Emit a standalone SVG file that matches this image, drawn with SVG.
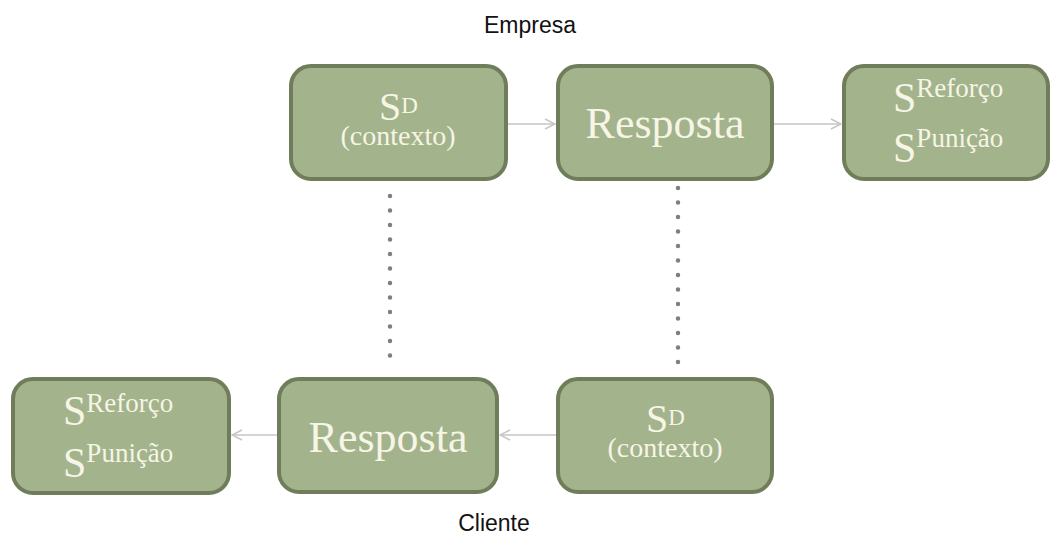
<svg xmlns="http://www.w3.org/2000/svg" width="1051" height="535" viewBox="0 0 1051 535">
<style>
.box{fill:#a3b38c;stroke:#6f7d5a;stroke-width:4}
.t{font-family:"Liberation Serif","Times New Roman",serif;fill:#f6f5e6}
.lbl{font-family:"Liberation Sans",Arial,sans-serif;font-size:23px;fill:#111}
.con{stroke:#c6c6c6;stroke-width:1.5;fill:none}
.dot{stroke:#7f7f7f;stroke-width:4.5;stroke-linecap:round;stroke-dasharray:0 14.5;fill:none}
</style>
<defs>
<marker id="arr" markerWidth="12" markerHeight="12" refX="11" refY="6" orient="auto" markerUnits="userSpaceOnUse">
<path d="M1,1 L11,6 L1,11" fill="none" stroke="#c6c6c6" stroke-width="1.5"/>
</marker>
</defs>
<rect width="1051" height="535" fill="#ffffff"/>
<text class="lbl" x="530" y="33" text-anchor="middle">Empresa</text>
<text class="lbl" x="494" y="531" text-anchor="middle">Cliente</text>
<g id="connectors">
<line class="con" x1="507" y1="124" x2="555" y2="124" marker-end="url(#arr)"/>
<line class="con" x1="773" y1="124" x2="841" y2="124" marker-end="url(#arr)"/>
<line class="con" x1="557" y1="435" x2="500" y2="435" marker-end="url(#arr)"/>
<line class="con" x1="278" y1="435" x2="232" y2="435" marker-end="url(#arr)"/>
<line class="dot" x1="390" y1="196" x2="390" y2="370"/>
<line class="dot" x1="678" y1="188" x2="678" y2="363"/>
</g>
<g id="sd-top">
<rect class="box" x="291" y="66" width="215" height="113" rx="20"/>
<text class="t"><tspan x="379" y="120" font-size="40">S</tspan><tspan font-size="23" dy="-7">D</tspan><tspan x="398" y="145" text-anchor="middle" font-size="28">(contexto)</tspan></text>
</g>
<g id="resposta-top">
<rect class="box" x="558" y="66" width="214" height="113" rx="20"/>
<text class="t" x="665" y="138" text-anchor="middle" font-size="44">Resposta</text>
</g>
<g id="sref-top">
<rect class="box" x="844" y="66" width="204" height="113" rx="20"/>
<text class="t"><tspan x="893" y="112" font-size="42">S</tspan><tspan font-size="27" dy="-15">Reforço</tspan><tspan x="893" y="162" font-size="42">S</tspan><tspan font-size="27" dy="-15">Punição</tspan></text>
</g>
<g id="sref-bottom">
<rect class="box" x="13" y="379" width="216" height="114" rx="20"/>
<text class="t"><tspan x="63" y="425" font-size="42">S</tspan><tspan font-size="27" dy="-13">Reforço</tspan><tspan x="63" y="477" font-size="42">S</tspan><tspan font-size="27" dy="-15">Punição</tspan></text>
</g>
<g id="resposta-bottom">
<rect class="box" x="279" y="379" width="218" height="113" rx="20"/>
<text class="t" x="388" y="452" text-anchor="middle" font-size="44">Resposta</text>
</g>
<g id="sd-bottom">
<rect class="box" x="558" y="379" width="214" height="113" rx="20"/>
<text class="t"><tspan x="646" y="432" font-size="40">S</tspan><tspan font-size="23" dy="-7">D</tspan><tspan x="665" y="457" text-anchor="middle" font-size="28">(contexto)</tspan></text>
</g>
</svg>
